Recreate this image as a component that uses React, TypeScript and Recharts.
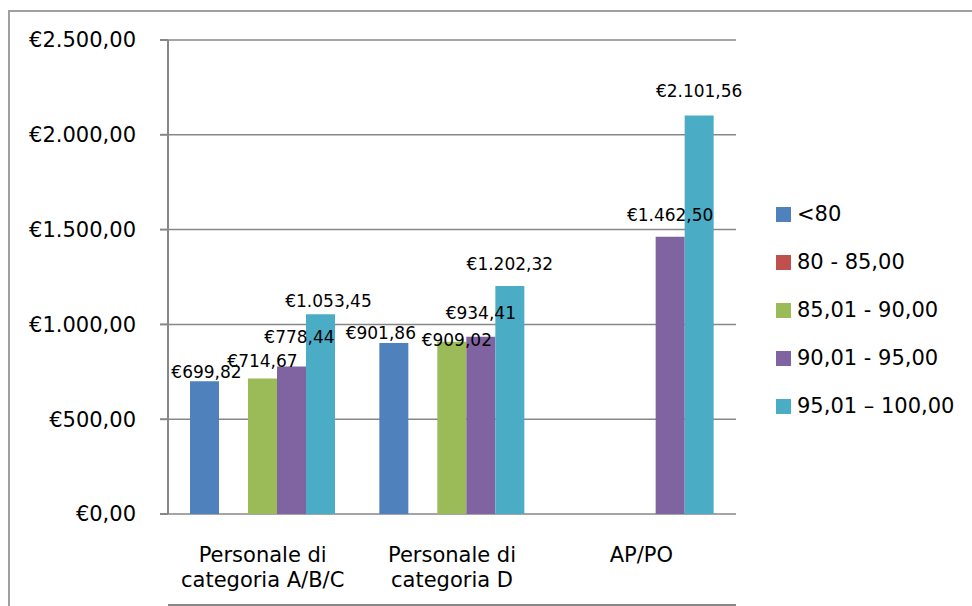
import { BarChart, Bar, XAxis, YAxis, CartesianGrid, Legend, LabelList } from 'recharts';

const categories = ['Personale di\ncategoria A/B/C', 'Personale di\ncategoria D', 'AP/PO'];
const seriesNames = ['<80', '80 - 85,00', '85,01 - 90,00', '90,01 - 95,00', '95,01 – 100,00'];
const under80 = [699.82, 901.86, null];
const from80to85 = [null, null, null];
const from85to90 = [714.67, 909.02, null];
const from90to95 = [778.44, 934.41, 1462.5];
const from95to100 = [1053.45, 1202.32, 2101.56];
const yTicks = [0, 500, 1000, 1500, 2000, 2500];

const seriesValues = [under80, from80to85, from85to90, from90to95, from95to100];
const colors = ['#4F81BD', '#C0504D', '#9BBB59', '#8064A2', '#4BACC6'];

// label nudges as in the original (dx, gap above bar top)
const labelNudge: number[][][] = [
    [[2, 3], [-13, 4], [0, 5]],
    [[0, 5], [0, 5], [0, 5]],
    [[0, 11], [5, -4], [0, 5]],
    [[8, 23], [0, 18], [0, 16]],
    [[8, 7], [0, 16], [0, 19]],
];

const data = categories.map((name, i) => {
    const row: Record<string, any> = { name };
    seriesValues.forEach((vals, s) => {
        row['s' + s] = vals[i];
    });
    return row;
});

const FONT = '"DejaVu Sans", sans-serif';
const GRAY = '#878787';

const euro = (v: number) => {
    const [int, dec] = v.toFixed(2).split('.');
    return '€' + int.replace(/\B(?=(\d{3})+(?!\d))/g, '.') + ',' + dec;
};

const makeLabel = (s: number) => (props: any) => {
    const { x, y, width, value, index } = props;
    if (value == null) return null;
    const [dx, gap] = labelNudge[s][index] ?? [0, 5];
    return (
        <text x={x + width / 2 + dx} y={y - gap} textAnchor="middle" fontSize={17} fill="#000" fontFamily={FONT}>
            {euro(value)}
        </text>
    );
};

const CategoryTick = (props: any) => {
    const { x, y, payload } = props;
    const lines = String(payload.value).split('\n');
    return (
        <g>
            {lines.map((line, i) => (
                <text key={i} x={x} y={y + 48 + i * 25} textAnchor="middle" fontSize={21} fill="#000" fontFamily={FONT}>
                    {line}
                </text>
            ))}
        </g>
    );
};

const LegendContent = (props: any) => {
    const items = [...(props.payload || [])].sort(
        (a: any, b: any) => seriesNames.indexOf(a.value) - seriesNames.indexOf(b.value)
    );
    return (
        <div style={{ fontFamily: FONT, fontSize: 21, color: '#000' }}>
            {items.map((entry: any, i: number) => (
                <div key={i} style={{ display: 'flex', alignItems: 'center', height: 48 }}>
                    <span style={{ display: 'inline-block', width: 15, height: 15, background: entry.color, marginRight: 6 }} />
                    <span>{entry.value}</span>
                </div>
            ))}
        </div>
    );
};

export default function App() {
    return (
        <div style={{ position: 'absolute', left: 0, top: 0, width: 972, height: 606, overflow: 'hidden', background: '#fff' }}>
            <div style={{ position: 'absolute', left: 8, top: 10, width: 1000, height: 700, borderLeft: '2px solid #a0a0a0', borderTop: '2px solid #a0a0a0' }} />
            <BarChart
                width={972}
                height={606}
                data={data}
                margin={{ top: 40, right: 236, bottom: 0, left: 0 }}
                barCategoryGap={22}
                barGap={0}
                style={{ fontFamily: FONT }}
            >
                <CartesianGrid vertical={false} stroke={GRAY} strokeWidth={1.5} />
                <XAxis
                    xAxisId="edge"
                    type="number"
                    domain={[0, 3]}
                    ticks={[0, 1, 2, 3]}
                    interval={0}
                    allowDataOverflow
                    height={1}
                    tick={false}
                    tickSize={8}
                    stroke={GRAY}
                    strokeWidth={2}
                />
                <XAxis
                    dataKey="name"
                    height={91}
                    axisLine={false}
                    tickLine={false}
                    tickSize={0}
                    tickMargin={0}
                    interval={0}
                    tick={<CategoryTick />}
                />
                <YAxis
                    width={168}
                    domain={[0, 2500]}
                    ticks={yTicks}
                    interval={0}
                    tickSize={8}
                    tickMargin={24}
                    tickFormatter={euro}
                    stroke={GRAY}
                    strokeWidth={2}
                    tick={{ fill: '#000', fontSize: 21, fontFamily: FONT }}
                />
                <Legend
                    layout="vertical"
                    align="center"
                    verticalAlign="middle"
                    content={<LegendContent />}
                    wrapperStyle={{ position: 'absolute', left: 776, top: 190, width: 190, height: 240 }}
                />
                {seriesNames.map((name, s) => (
                    <Bar key={name} dataKey={'s' + s} name={name} fill={colors[s]} isAnimationActive={false}>
                        <LabelList dataKey={'s' + s} content={makeLabel(s)} />
                    </Bar>
                ))}
            </BarChart>
        </div>
    );
}
